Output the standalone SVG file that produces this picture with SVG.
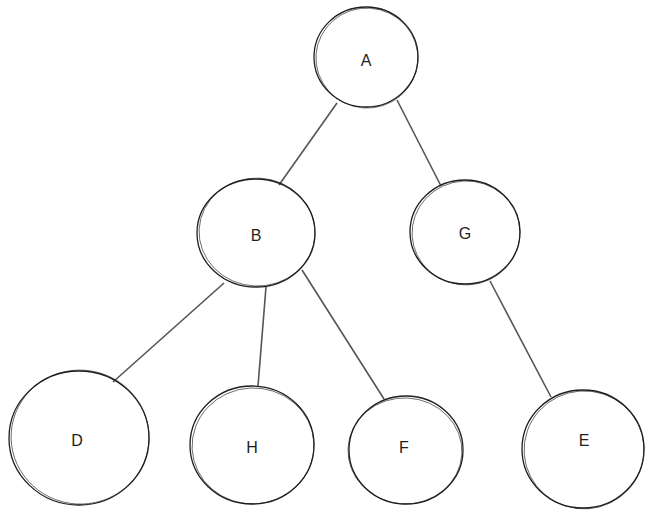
<svg xmlns="http://www.w3.org/2000/svg" width="653" height="518" viewBox="0 0 653 518">
<style>
.n{fill:none;stroke:#1e1e1e;stroke-width:1.3}
.n2{fill:none;stroke:#1e1e1e;stroke-width:0.8;opacity:0.8}
.e{stroke:#555;stroke-width:1.6;fill:none}
.t{font-family:"Liberation Sans",Arial,sans-serif;font-size:16px;fill:#1e1e1e;text-anchor:middle;dominant-baseline:central}
</style>
<rect width="653" height="518" fill="#fff"/>
<g id="edges">
<path class="e" d="M337,103 L279,185"/>
<path class="e" d="M397,100 L441,186"/>
<path class="e" d="M224,283 L113,382"/>
<path class="e" d="M266,287 L258,386"/>
<path class="e" d="M302,270 L384,399"/>
<path class="e" d="M490,281 L551,397"/>
</g>
<g id="A"><ellipse class="n" cx="366" cy="57" rx="52" ry="50"/><ellipse class="n2" cx="367" cy="58" rx="51" ry="50" transform="rotate(4 366 57)"/><text class="t" x="366" y="60">A</text></g>
<g id="B"><ellipse class="n" cx="256" cy="233" rx="59" ry="54"/><ellipse class="n2" cx="257" cy="232" rx="58" ry="54" transform="rotate(3 256 233)"/><text class="t" x="256" y="235">B</text></g>
<g id="G"><ellipse class="n" cx="465" cy="232" rx="55" ry="52"/><ellipse class="n2" cx="466" cy="233" rx="54" ry="52" transform="rotate(-3 465 232)"/><text class="t" x="465" y="233">G</text></g>
<g id="D"><ellipse class="n" cx="79" cy="438" rx="70" ry="67"/><ellipse class="n2" cx="80" cy="437" rx="69" ry="67" transform="rotate(4 79 438)"/><text class="t" x="77" y="440">D</text></g>
<g id="H"><ellipse class="n" cx="252" cy="445" rx="62" ry="59"/><ellipse class="n2" cx="253" cy="446" rx="61" ry="58" transform="rotate(-3 252 445)"/><text class="t" x="252" y="447">H</text></g>
<g id="F"><ellipse class="n" cx="406" cy="450" rx="57" ry="54"/><ellipse class="n2" cx="405" cy="451" rx="57" ry="53" transform="rotate(3 406 450)"/><text class="t" x="404" y="447">F</text></g>
<g id="E"><ellipse class="n" cx="583" cy="449" rx="61" ry="59"/><ellipse class="n2" cx="584" cy="450" rx="60" ry="59" transform="rotate(-4 583 449)"/><text class="t" x="584" y="440">E</text></g>
</svg>
